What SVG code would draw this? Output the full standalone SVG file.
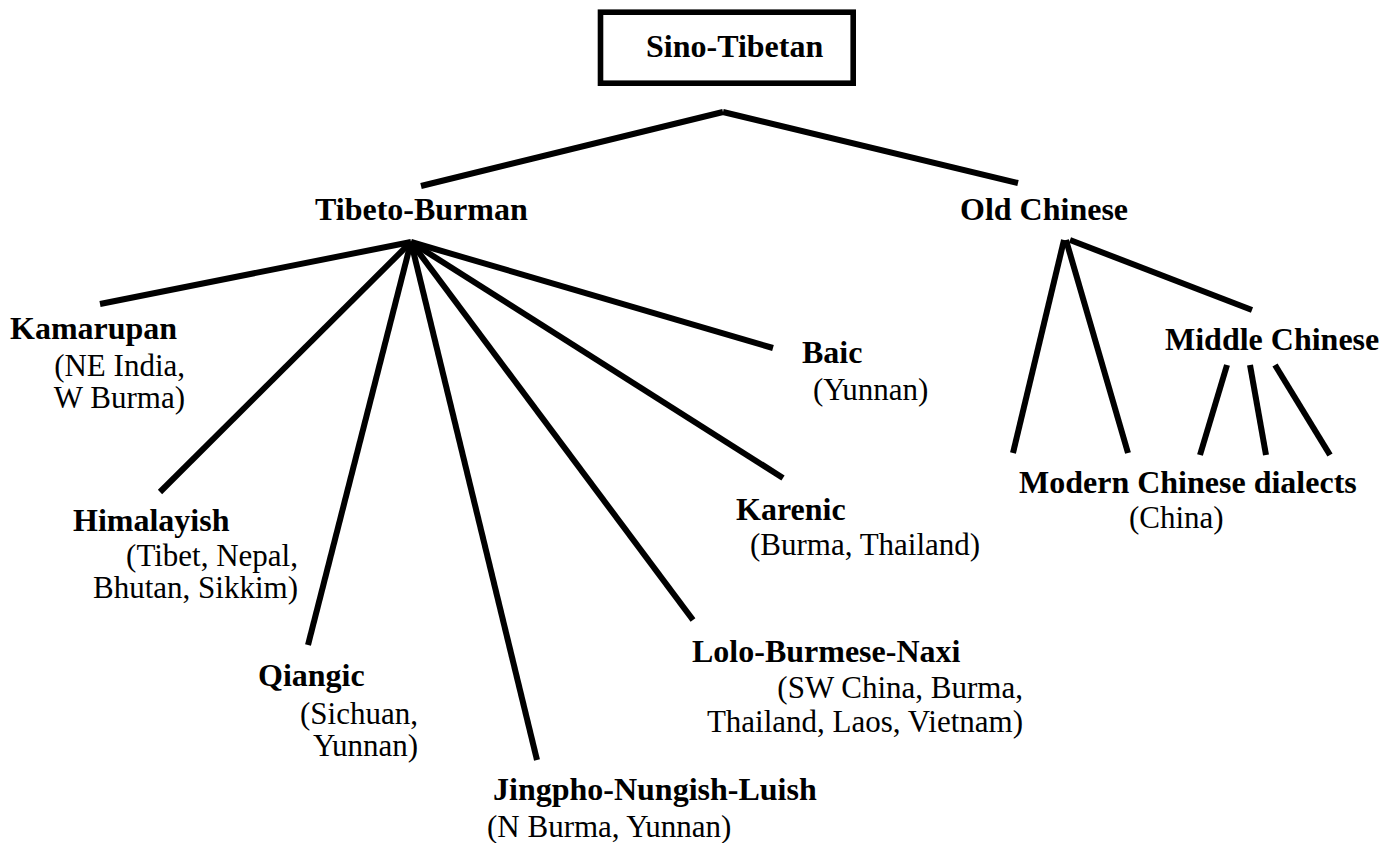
<svg xmlns="http://www.w3.org/2000/svg" width="1394" height="843" viewBox="0 0 1394 843">
<style>
text { font-family: "Liberation Serif", "DejaVu Serif", "Times New Roman", serif; fill: #000; }
.b { font-weight: bold; font-size: 32px; }
.r { font-size: 31px; }
.e { text-anchor: end; }
.c line { stroke: #000; stroke-width: 6; stroke-linecap: butt; }
</style>
<rect width="1394" height="843" fill="#fff"/>
<g class="c" id="connectors">
<line x1="723" y1="112" x2="421" y2="186"/>
<line x1="723" y1="112" x2="1018" y2="183"/>
<line x1="411" y1="242" x2="100" y2="304"/>
<line x1="411" y1="242" x2="160" y2="492"/>
<line x1="411" y1="242" x2="308" y2="645"/>
<line x1="411" y1="242" x2="537" y2="760"/>
<line x1="411" y1="242" x2="693" y2="620"/>
<line x1="411" y1="242" x2="783" y2="478"/>
<line x1="411" y1="242" x2="773" y2="348"/>
<line x1="1064" y1="240" x2="1013" y2="453"/>
<line x1="1066" y1="240" x2="1128" y2="453"/>
<line x1="1070" y1="240" x2="1252" y2="310"/>
<line x1="1227" y1="365" x2="1200" y2="455"/>
<line x1="1250" y1="365" x2="1266" y2="455"/>
<line x1="1275" y1="365" x2="1330" y2="455"/>
</g>
<g id="sino-tibetan">
<rect x="600.5" y="12.2" width="252.7" height="71" fill="none" stroke="#000" stroke-width="5.6"/>
<text class="b" x="646" y="57">Sino-Tibetan</text>
</g>
<g id="tibeto-burman"><text class="b" x="315" y="220">Tibeto-Burman</text></g>
<g id="old-chinese"><text class="b" x="960" y="220">Old Chinese</text></g>
<g id="kamarupan">
<text class="b" x="10" y="339">Kamarupan</text>
<text class="r e" x="185" y="376">(NE India,</text>
<text class="r e" x="185" y="408">W Burma)</text>
</g>
<g id="himalayish">
<text class="b" x="73" y="531">Himalayish</text>
<text class="r e" x="298" y="566">(Tibet, Nepal,</text>
<text class="r e" x="298" y="598">Bhutan, Sikkim)</text>
</g>
<g id="qiangic">
<text class="b" x="258" y="686">Qiangic</text>
<text class="r e" x="418" y="724">(Sichuan,</text>
<text class="r e" x="418" y="756">Yunnan)</text>
</g>
<g id="jingpho">
<text class="b" x="493" y="800">Jingpho-Nungish-Luish</text>
<text class="r" x="487" y="837">(N Burma, Yunnan)</text>
</g>
<g id="lolo">
<text class="b" x="692" y="662">Lolo-Burmese-Naxi</text>
<text class="r e" x="1023" y="698">(SW China, Burma,</text>
<text class="r e" x="1023" y="732">Thailand, Laos, Vietnam)</text>
</g>
<g id="karenic">
<text class="b" x="736" y="520">Karenic</text>
<text class="r" x="750" y="555">(Burma, Thailand)</text>
</g>
<g id="baic">
<text class="b" x="802" y="363">Baic</text>
<text class="r" x="813" y="400">(Yunnan)</text>
</g>
<g id="middle-chinese"><text class="b" x="1165" y="350">Middle Chinese</text></g>
<g id="modern-chinese">
<text class="b" x="1019" y="493">Modern Chinese dialects</text>
<text class="r" x="1129" y="528">(China)</text>
</g>
</svg>
